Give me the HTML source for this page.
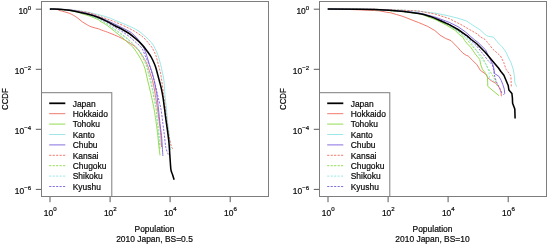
<!DOCTYPE html>
<html><head><meta charset="utf-8"><title>CCDF of population, 2010 Japan</title>
<style>
html,body{margin:0;padding:0;background:#fff;}
body{width:548px;height:246px;overflow:hidden;}
svg{display:block;}
.t{font-family:"Liberation Sans",Arial,Helvetica,sans-serif;font-size:8.45px;fill:#0a0a0a;stroke:#0a0a0a;stroke-width:0.2px;}
.s{font-size:6.1px;}
.c{font-size:7.8px;}
</style></head><body>
<svg width="548" height="246" viewBox="0 0 548 246">
<rect x="0" y="0" width="548" height="246" fill="#fff"/>
<g>
<path d="M57.5,9.5 C57.8,9.6 57.9,9.9 59.0,10.3 C60.1,10.7 62.4,11.2 64.1,11.7 C65.8,12.2 67.6,12.6 69.2,13.2 C70.8,13.8 72.1,14.6 73.6,15.4 C75.1,16.2 76.5,17.2 78.0,18.3 C79.5,19.4 80.9,20.8 82.4,21.9 C83.9,22.9 85.3,23.8 86.8,24.6 C88.3,25.4 89.2,26.1 91.2,26.8 C93.2,27.5 97.0,28.4 98.5,28.8 C100.0,29.2 98.5,28.9 100.0,29.5 C101.5,30.1 104.9,31.2 107.3,32.1 C109.7,33.0 112.2,34.0 114.6,35.0 C117.0,36.0 119.8,37.3 121.9,38.4 C124.0,39.5 125.4,40.4 127.3,41.5 C129.2,42.6 131.5,44.1 133.1,45.2 C134.7,46.3 135.7,47.2 136.8,48.2 C137.9,49.2 138.5,50.0 139.6,51.5 C140.7,53.0 142.2,55.3 143.5,57.5 C144.8,59.7 146.1,61.9 147.2,64.5 C148.3,67.1 149.1,70.3 150.0,73.0 C150.9,75.7 151.8,77.7 152.5,80.5 C153.2,83.3 154.0,87.2 154.5,90.0 C155.0,92.8 155.2,94.3 155.7,97.5 C156.2,100.7 156.9,104.8 157.5,109.2 C158.1,113.6 158.9,119.3 159.5,123.7 C160.1,128.1 160.5,131.5 160.8,135.4 C161.1,139.3 161.4,145.1 161.5,147.0" fill="none" stroke="#ef6a5d" stroke-width="0.9" stroke-linejoin="round"/>
<path d="M49.9,9.1 C51.4,9.1 55.8,9.1 59.0,9.3 C62.2,9.5 66.0,9.8 69.2,10.3 C72.4,10.8 75.8,11.7 78.0,12.3 C80.2,12.9 80.5,13.3 82.4,13.9 C84.4,14.5 87.0,15.1 89.7,16.1 C92.4,17.1 96.8,18.9 98.5,19.7 C100.2,20.5 98.5,20.1 100.0,21.1 C101.5,22.1 104.9,23.8 107.3,25.5 C109.7,27.2 112.2,29.4 114.6,31.4 C117.0,33.4 119.5,35.1 121.9,37.2 C124.3,39.3 127.2,42.0 129.2,43.8 C131.1,45.6 132.0,46.0 133.6,48.0 C135.2,50.0 137.3,53.2 139.0,56.0 C140.7,58.8 142.3,61.7 143.5,64.5 C144.7,67.3 145.3,70.2 146.0,73.0 C146.7,75.8 147.1,78.2 147.8,81.0 C148.5,83.8 149.3,87.2 150.0,90.0 C150.7,92.8 151.0,94.3 151.7,97.5 C152.4,100.7 153.5,106.2 154.1,109.2 C154.7,112.2 154.7,113.1 155.1,115.5 C155.5,117.9 155.9,120.4 156.3,123.7 C156.8,127.0 157.4,131.8 157.8,135.4 C158.2,139.1 158.4,142.3 158.8,145.6 C159.2,148.9 159.8,153.8 160.0,155.4" fill="none" stroke="#87d840" stroke-width="0.9" stroke-linejoin="round"/>
<path d="M49.9,9.0 C53.1,9.1 62.9,9.1 69.2,9.6 C75.5,10.1 81.9,11.0 88.0,12.2 C94.1,13.4 101.4,15.4 105.8,16.7 C110.2,18.0 110.7,18.5 114.6,20.1 C118.5,21.7 125.3,24.4 129.2,26.2 C133.1,27.9 135.3,28.9 138.0,30.6 C140.7,32.3 143.1,34.5 145.3,36.5 C147.5,38.5 149.6,40.4 151.2,42.3 C152.8,44.2 153.7,45.8 154.8,48.0 C155.9,50.2 157.0,52.5 158.0,55.3 C159.0,58.0 159.8,61.5 160.6,64.5 C161.3,67.5 161.9,70.2 162.5,73.0 C163.1,75.8 163.7,78.2 164.0,81.0 C164.3,83.8 164.4,87.2 164.6,90.0 C164.8,92.8 164.9,94.3 165.2,97.5 C165.5,100.7 166.1,104.8 166.5,109.0 C166.9,113.2 167.2,118.7 167.7,123.0 C168.2,127.3 168.8,130.5 169.3,135.0 C169.8,139.5 170.3,147.5 170.5,150.0" fill="none" stroke="#92e4e4" stroke-width="0.9" stroke-linejoin="round"/>
<path d="M49.9,9.1 C53.1,9.2 62.8,9.2 69.2,10.0 C75.6,10.8 83.1,12.4 88.2,13.6 C93.3,14.8 95.6,15.7 100.0,17.4 C104.4,19.1 109.7,21.7 114.6,24.0 C119.5,26.3 126.2,29.7 129.2,31.4 C132.2,33.1 131.5,32.9 132.8,34.0 C134.1,35.1 135.4,36.2 136.8,37.8 C138.2,39.4 139.8,41.8 141.0,43.5 C142.2,45.2 143.0,46.0 143.9,48.0 C144.8,50.0 145.7,52.5 146.6,55.3 C147.5,58.0 148.5,61.7 149.4,64.5 C150.3,67.3 151.2,69.3 152.0,72.0 C152.8,74.7 153.5,77.5 154.2,80.5 C154.9,83.5 155.5,87.2 156.0,90.0 C156.5,92.8 156.8,94.3 157.2,97.5 C157.6,100.7 158.0,104.6 158.5,109.0 C159.0,113.4 159.5,119.3 160.0,123.7 C160.5,128.1 161.1,131.5 161.5,135.4 C161.9,139.3 162.1,143.6 162.3,147.0 C162.5,150.4 162.8,154.5 162.9,156.0" fill="none" stroke="#7a5edb" stroke-width="0.9" stroke-linejoin="round"/>
<path d="M49.9,9.0 C53.1,9.1 62.9,9.2 69.2,9.8 C75.5,10.4 82.4,11.3 88.0,12.6 C93.6,13.9 98.5,16.0 102.9,17.5 C107.3,19.0 110.2,20.0 114.6,21.8 C119.0,23.6 125.3,26.4 129.2,28.4 C133.1,30.3 135.6,31.9 138.0,33.5 C140.4,35.1 142.1,36.2 143.9,37.9 C145.7,39.6 147.6,42.1 149.0,43.8 C150.4,45.5 151.2,46.1 152.3,48.0 C153.4,49.9 154.8,52.5 155.8,55.3 C156.8,58.0 157.5,61.5 158.3,64.5 C159.1,67.5 159.9,70.2 160.5,73.0 C161.1,75.8 161.4,78.2 161.8,81.0 C162.2,83.8 162.6,87.2 163.0,90.0 C163.4,92.8 163.6,94.3 164.0,97.5 C164.4,100.7 165.0,104.8 165.5,109.0 C166.0,113.2 166.4,118.5 167.0,123.0 C167.6,127.5 168.3,132.1 169.0,136.0 C169.7,139.9 170.7,144.2 171.4,146.4 C172.1,148.7 173.1,149.0 173.4,149.5" fill="none" stroke="#ef6a5d" stroke-width="0.9" stroke-linejoin="round" stroke-dasharray="2.16 1.3"/>
<path d="M49.9,9.1 C53.1,9.3 62.8,9.4 69.2,10.3 C75.6,11.2 83.1,12.9 88.2,14.5 C93.3,16.1 96.6,17.9 100.0,19.6 C103.4,21.3 106.4,23.2 108.8,24.8 C111.2,26.4 112.4,27.6 114.6,29.2 C116.8,30.8 119.5,32.5 121.9,34.3 C124.3,36.1 127.0,38.1 129.2,40.1 C131.4,42.1 133.8,44.7 135.1,46.0 C136.4,47.3 135.8,46.3 136.9,48.0 C138.0,49.7 140.4,53.2 141.9,56.0 C143.4,58.8 144.9,61.7 146.0,64.5 C147.1,67.3 147.6,70.2 148.3,73.0 C149.1,75.8 149.8,78.2 150.5,81.0 C151.2,83.8 151.9,87.2 152.5,90.0 C153.1,92.8 153.3,94.3 153.9,97.5 C154.5,100.7 155.4,104.8 156.0,109.2 C156.6,113.6 157.0,119.3 157.5,123.7 C158.0,128.1 158.4,131.0 158.8,135.4 C159.2,139.8 159.8,147.6 160.0,150.0" fill="none" stroke="#87d840" stroke-width="0.9" stroke-linejoin="round" stroke-dasharray="2.16 1.3"/>
<path d="M49.9,9.1 C53.1,9.3 62.8,9.4 69.2,10.3 C75.6,11.2 83.1,13.1 88.2,14.7 C93.3,16.3 96.6,18.1 100.0,19.9 C103.4,21.6 106.4,23.6 108.8,25.2 C111.2,26.8 112.4,28.1 114.6,29.7 C116.8,31.3 119.5,33.0 121.9,34.9 C124.3,36.8 127.0,38.9 129.2,40.8 C131.4,42.7 133.6,44.9 135.1,46.2 C136.6,47.5 136.7,47.0 138.0,48.6 C139.3,50.2 141.4,53.4 142.8,56.0 C144.2,58.6 145.6,61.7 146.6,64.5 C147.6,67.3 148.3,70.2 149.0,73.0 C149.7,75.8 150.3,78.2 151.0,81.0 C151.7,83.8 152.4,87.2 153.0,90.0 C153.6,92.8 153.9,94.3 154.5,97.5 C155.1,100.7 155.9,104.8 156.5,109.2 C157.1,113.6 157.5,119.3 158.0,123.7 C158.5,128.1 158.9,131.7 159.3,135.4 C159.7,139.1 160.1,144.2 160.3,146.0" fill="none" stroke="#92e4e4" stroke-width="0.9" stroke-linejoin="round" stroke-dasharray="2.16 1.3"/>
<path d="M49.9,9.1 C53.1,9.3 62.8,9.3 69.2,10.1 C75.6,10.9 83.1,12.6 88.2,14.0 C93.3,15.4 96.6,16.8 100.0,18.4 C103.4,19.9 106.4,21.9 108.8,23.3 C111.2,24.7 112.4,25.6 114.6,27.0 C116.8,28.4 119.5,29.8 121.9,31.4 C124.3,33.0 126.8,34.6 129.2,36.5 C131.6,38.4 134.4,41.1 136.5,43.0 C138.6,44.9 140.3,46.0 141.7,48.0 C143.1,50.0 143.8,52.5 145.0,55.3 C146.2,58.0 147.9,61.7 149.0,64.5 C150.1,67.3 150.6,69.2 151.5,72.0 C152.4,74.8 153.5,78.0 154.3,81.0 C155.1,84.0 155.8,87.2 156.5,90.0 C157.2,92.8 157.4,94.3 158.2,97.5 C158.9,100.7 160.2,104.8 161.0,109.2 C161.8,113.6 162.3,119.3 162.9,123.7 C163.5,128.1 163.9,131.4 164.4,135.4 C164.9,139.4 165.2,144.3 165.8,147.5 C166.5,150.7 167.9,153.4 168.3,154.6" fill="none" stroke="#7a5edb" stroke-width="0.9" stroke-linejoin="round" stroke-dasharray="2.16 1.3"/>
<path d="M49.9,9.1 C51.4,9.1 55.8,9.0 59.0,9.2 C62.2,9.4 66.0,9.7 69.2,10.2 C72.4,10.7 74.8,11.3 78.0,12.0 C81.2,12.7 84.8,13.3 88.2,14.2 C91.6,15.1 95.4,16.3 98.5,17.5 C101.6,18.7 104.3,20.1 107.0,21.4 C109.7,22.7 112.1,24.2 114.6,25.5 C117.1,26.8 119.6,28.0 122.0,29.3 C124.4,30.6 126.8,31.8 129.2,33.5 C131.6,35.2 134.5,37.7 136.5,39.4 C138.5,41.1 139.6,42.1 141.0,43.6 C142.4,45.1 143.8,46.6 145.0,48.2 C146.2,49.8 147.4,51.5 148.5,53.0 C149.6,54.5 150.6,56.0 151.4,57.5 C152.2,59.0 152.9,60.4 153.6,62.0 C154.3,63.6 154.8,64.5 155.6,67.0 C156.4,69.5 157.8,74.9 158.4,77.2 C159.0,79.5 158.9,79.1 159.4,81.0 C159.9,82.9 160.8,86.0 161.4,88.8 C162.0,91.6 162.6,94.6 163.1,98.0 C163.6,101.4 164.2,106.4 164.6,109.2 C165.0,112.0 165.0,112.6 165.3,115.0 C165.6,117.4 166.0,120.3 166.5,123.7 C167.0,127.1 167.7,132.3 168.1,135.4 C168.5,138.5 168.6,138.8 168.9,142.0 C169.2,145.2 169.6,151.3 169.8,154.6 C170.0,157.9 170.1,159.4 170.3,162.0 C170.5,164.6 170.6,168.1 171.0,170.2 C171.4,172.3 172.0,173.0 172.5,174.6 C173.0,176.2 173.8,178.8 174.1,179.7" fill="none" stroke="#000" stroke-width="1.55" stroke-linejoin="round"/>
<rect x="41.5" y="1.5" width="227.0" height="195.0" fill="none" stroke="#7d7d7d" stroke-width="1"/>
<line x1="50.0" y1="196.5" x2="50.0" y2="202.2" stroke="#5a5a5a" stroke-width="1"/>
<text x="50.2" y="215.5" class="t" text-anchor="middle">10<tspan dy="-4.6" class="s">0</tspan></text>
<line x1="110.1" y1="196.5" x2="110.1" y2="202.2" stroke="#5a5a5a" stroke-width="1"/>
<text x="110.3" y="215.5" class="t" text-anchor="middle">10<tspan dy="-4.6" class="s">2</tspan></text>
<line x1="170.1" y1="196.5" x2="170.1" y2="202.2" stroke="#5a5a5a" stroke-width="1"/>
<text x="170.3" y="215.5" class="t" text-anchor="middle">10<tspan dy="-4.6" class="s">4</tspan></text>
<line x1="230.2" y1="196.5" x2="230.2" y2="202.2" stroke="#5a5a5a" stroke-width="1"/>
<text x="230.4" y="215.5" class="t" text-anchor="middle">10<tspan dy="-4.6" class="s">6</tspan></text>
<line x1="35.8" y1="9.2" x2="41.5" y2="9.2" stroke="#5a5a5a" stroke-width="1"/>
<text x="31.2" y="14.0" class="t" text-anchor="end">10<tspan dy="-4.3" class="s">0</tspan></text>
<line x1="35.8" y1="69.3" x2="41.5" y2="69.3" stroke="#5a5a5a" stroke-width="1"/>
<text x="31.2" y="74.1" class="t" text-anchor="end">10<tspan dy="-4.3" class="s">−2</tspan></text>
<line x1="35.8" y1="129.3" x2="41.5" y2="129.3" stroke="#5a5a5a" stroke-width="1"/>
<text x="31.2" y="134.1" class="t" text-anchor="end">10<tspan dy="-4.3" class="s">−4</tspan></text>
<line x1="35.8" y1="189.4" x2="41.5" y2="189.4" stroke="#5a5a5a" stroke-width="1"/>
<text x="31.2" y="194.2" class="t" text-anchor="end">10<tspan dy="-4.3" class="s">−6</tspan></text>
<text x="154.5" y="231.9" class="t" text-anchor="middle">Population</text>
<text x="154.5" y="242.0" class="t" text-anchor="middle">2010 Japan, BS=0.5</text>
<text transform="translate(8.1,99.1) scale(1.05,1) rotate(-90)" class="t c" text-anchor="middle">CCDF</text>
<rect x="41.5" y="92.7" width="70.3" height="103.8" fill="#fff" stroke="#7d7d7d" stroke-width="1"/>
<line x1="49.2" y1="103.3" x2="65.3" y2="103.3" stroke="#000" stroke-width="1.75"/>
<text x="72.7" y="106.5" class="t">Japan</text>
<line x1="49.2" y1="113.7" x2="65.3" y2="113.7" stroke="#ef6a5d" stroke-width="0.9"/>
<text x="72.7" y="116.9" class="t">Hokkaido</text>
<line x1="49.2" y1="124.1" x2="65.3" y2="124.1" stroke="#87d840" stroke-width="0.9"/>
<text x="72.7" y="127.3" class="t">Tohoku</text>
<line x1="49.2" y1="134.5" x2="65.3" y2="134.5" stroke="#92e4e4" stroke-width="0.9"/>
<text x="72.7" y="137.7" class="t">Kanto</text>
<line x1="49.2" y1="144.9" x2="65.3" y2="144.9" stroke="#7a5edb" stroke-width="0.9"/>
<text x="72.7" y="148.1" class="t">Chubu</text>
<line x1="49.2" y1="155.3" x2="65.3" y2="155.3" stroke="#ef6a5d" stroke-width="0.9" stroke-dasharray="2.16 1.3"/>
<text x="72.7" y="158.5" class="t">Kansai</text>
<line x1="49.2" y1="165.7" x2="65.3" y2="165.7" stroke="#87d840" stroke-width="0.9" stroke-dasharray="2.16 1.3"/>
<text x="72.7" y="168.9" class="t">Chugoku</text>
<line x1="49.2" y1="176.1" x2="65.3" y2="176.1" stroke="#92e4e4" stroke-width="0.9" stroke-dasharray="2.16 1.3"/>
<text x="72.7" y="179.3" class="t">Shikoku</text>
<line x1="49.2" y1="186.5" x2="65.3" y2="186.5" stroke="#7a5edb" stroke-width="0.9" stroke-dasharray="2.16 1.3"/>
<text x="72.7" y="189.7" class="t">Kyushu</text>
</g>
<g>
<polyline points="345.0,9.3 360.0,9.9 374.6,10.5 380.0,10.9 386.3,12.2 391.0,12.9 396.5,14.5 401.9,16.1 406.8,17.9 412.9,20.4 418.5,22.5 423.9,24.8 427.3,26.2 434.8,30.5 440.0,35.1 445.5,38.4 451.0,40.6 454.3,43.9 457.5,47.2 460.3,50.4 463.0,53.2 466.3,55.4 468.2,56.0 472.6,60.4 477.0,64.8 480.3,70.3 485.7,74.1 487.9,77.9 491.2,80.7 495.1,82.9 496.8,84.2 499.6,88.1 501.0,92.4 501.4,96.3" fill="none" stroke="#ef6a5d" stroke-width="0.9" stroke-linejoin="round"/>
<polyline points="327.8,9.1 374.6,9.6 403.9,11.6 420.0,13.8 436.0,19.9 447.0,25.4 455.7,30.8 458.6,34.0 463.0,37.3 464.7,40.6 467.4,43.9 470.7,47.2 472.9,50.4 475.1,53.7 477.0,56.2 479.7,59.3 480.8,64.8 482.4,69.2 485.7,73.5 487.4,76.3 487.6,80.0 487.8,86.4 499.0,95.7" fill="none" stroke="#87d840" stroke-width="0.9" stroke-linejoin="round"/>
<polyline points="327.8,9.0 374.6,9.2 403.9,10.2 420.0,11.3 436.0,13.3 447.0,15.5 457.9,18.2 466.7,21.0 472.2,24.8 479.9,29.7 484.2,33.6 486.5,35.6 488.2,36.2 493.7,37.3 497.0,41.7 501.6,46.2 506.0,52.1 507.7,56.0 511.0,62.6 513.2,69.2 514.2,74.6 514.9,82.6 516.6,86.7" fill="none" stroke="#92e4e4" stroke-width="0.9" stroke-linejoin="round"/>
<polyline points="327.8,9.1 374.6,9.4 403.9,11.2 420.0,13.2 434.6,16.9 449.2,22.3 458.0,26.7 465.3,31.8 470.2,36.0 474.1,39.5 478.2,42.6 485.6,49.9 489.6,58.3 492.9,64.8 494.0,69.2 494.5,73.5 498.9,76.3 501.2,80.4 502.9,84.8 504.3,89.2 504.7,93.5 503.4,94.9" fill="none" stroke="#7a5edb" stroke-width="0.9" stroke-linejoin="round"/>
<polyline points="327.8,9.0 374.6,9.2 403.9,10.3 418.5,11.0 430.2,13.2 434.6,13.9 449.2,18.6 460.9,24.5 469.7,29.6 478.5,34.7 479.0,36.0 485.1,39.5 487.0,41.8 492.9,49.2 500.5,56.0 503.8,62.6 506.0,69.2 509.9,74.6 510.9,76.0 511.3,86.4" fill="none" stroke="#ef6a5d" stroke-width="0.9" stroke-linejoin="round" stroke-dasharray="2.16 1.3"/>
<polyline points="327.8,9.1 374.6,9.5 403.9,11.6 420.0,13.8 434.6,18.4 449.2,25.9 458.0,31.0 463.9,36.2 466.8,39.5 472.4,46.2 481.4,56.0 484.6,61.5 487.9,68.1 490.7,72.4 493.4,76.8 495.2,80.4 497.4,85.9" fill="none" stroke="#87d840" stroke-width="0.9" stroke-linejoin="round" stroke-dasharray="2.16 1.3"/>
<polyline points="327.8,9.1 374.6,9.5 403.9,11.5 420.0,13.6 434.6,18.1 449.2,25.2 460.0,33.0 469.5,40.4 476.8,50.6 479.5,56.0 483.0,60.5 486.3,64.8 488.0,69.0 489.0,72.4 489.7,79.3 492.0,79.8 495.8,82.5" fill="none" stroke="#92e4e4" stroke-width="0.9" stroke-linejoin="round" stroke-dasharray="2.16 1.3"/>
<polyline points="327.8,9.1 374.6,9.5 403.9,11.4 420.0,13.5 434.6,17.6 449.2,24.0 458.0,29.5 468.0,37.5 476.8,46.2 484.6,56.0 487.9,60.4 492.3,64.8 493.5,69.0 494.2,73.5 494.6,76.0 496.3,81.5 498.5,85.9 500.7,90.3 502.3,94.1" fill="none" stroke="#7a5edb" stroke-width="0.9" stroke-linejoin="round" stroke-dasharray="2.16 1.3"/>
<polyline points="327.8,9.1 360.0,9.2 374.6,9.5 389.2,10.2 403.9,11.4 418.5,13.6 423.9,14.5 430.2,16.4 434.6,18.1 440.0,20.5 449.2,24.6 458.0,29.5 465.3,34.6 467.5,36.2 471.2,39.5 476.5,43.5 485.2,52.2 493.8,62.4 498.5,68.0 500.9,71.5 503.9,75.3 508.2,85.5 508.9,90.0 511.9,93.5 512.4,98.0 512.6,103.3 514.8,109.0 515.1,118.5" fill="none" stroke="#000" stroke-width="1.55" stroke-linejoin="round"/>
<rect x="319.5" y="1.5" width="227.0" height="195.0" fill="none" stroke="#7d7d7d" stroke-width="1"/>
<line x1="328.0" y1="196.5" x2="328.0" y2="202.2" stroke="#5a5a5a" stroke-width="1"/>
<text x="328.2" y="215.5" class="t" text-anchor="middle">10<tspan dy="-4.6" class="s">0</tspan></text>
<line x1="388.1" y1="196.5" x2="388.1" y2="202.2" stroke="#5a5a5a" stroke-width="1"/>
<text x="388.3" y="215.5" class="t" text-anchor="middle">10<tspan dy="-4.6" class="s">2</tspan></text>
<line x1="448.1" y1="196.5" x2="448.1" y2="202.2" stroke="#5a5a5a" stroke-width="1"/>
<text x="448.3" y="215.5" class="t" text-anchor="middle">10<tspan dy="-4.6" class="s">4</tspan></text>
<line x1="508.2" y1="196.5" x2="508.2" y2="202.2" stroke="#5a5a5a" stroke-width="1"/>
<text x="508.4" y="215.5" class="t" text-anchor="middle">10<tspan dy="-4.6" class="s">6</tspan></text>
<line x1="313.8" y1="9.2" x2="319.5" y2="9.2" stroke="#5a5a5a" stroke-width="1"/>
<text x="309.2" y="14.0" class="t" text-anchor="end">10<tspan dy="-4.3" class="s">0</tspan></text>
<line x1="313.8" y1="69.3" x2="319.5" y2="69.3" stroke="#5a5a5a" stroke-width="1"/>
<text x="309.2" y="74.1" class="t" text-anchor="end">10<tspan dy="-4.3" class="s">−2</tspan></text>
<line x1="313.8" y1="129.3" x2="319.5" y2="129.3" stroke="#5a5a5a" stroke-width="1"/>
<text x="309.2" y="134.1" class="t" text-anchor="end">10<tspan dy="-4.3" class="s">−4</tspan></text>
<line x1="313.8" y1="189.4" x2="319.5" y2="189.4" stroke="#5a5a5a" stroke-width="1"/>
<text x="309.2" y="194.2" class="t" text-anchor="end">10<tspan dy="-4.3" class="s">−6</tspan></text>
<text x="432.5" y="231.9" class="t" text-anchor="middle">Population</text>
<text x="432.5" y="242.0" class="t" text-anchor="middle">2010 Japan, BS=10</text>
<text transform="translate(286.1,99.1) scale(1.05,1) rotate(-90)" class="t c" text-anchor="middle">CCDF</text>
<rect x="319.5" y="92.7" width="70.3" height="103.8" fill="#fff" stroke="#7d7d7d" stroke-width="1"/>
<line x1="327.2" y1="103.3" x2="343.3" y2="103.3" stroke="#000" stroke-width="1.75"/>
<text x="350.7" y="106.5" class="t">Japan</text>
<line x1="327.2" y1="113.7" x2="343.3" y2="113.7" stroke="#ef6a5d" stroke-width="0.9"/>
<text x="350.7" y="116.9" class="t">Hokkaido</text>
<line x1="327.2" y1="124.1" x2="343.3" y2="124.1" stroke="#87d840" stroke-width="0.9"/>
<text x="350.7" y="127.3" class="t">Tohoku</text>
<line x1="327.2" y1="134.5" x2="343.3" y2="134.5" stroke="#92e4e4" stroke-width="0.9"/>
<text x="350.7" y="137.7" class="t">Kanto</text>
<line x1="327.2" y1="144.9" x2="343.3" y2="144.9" stroke="#7a5edb" stroke-width="0.9"/>
<text x="350.7" y="148.1" class="t">Chubu</text>
<line x1="327.2" y1="155.3" x2="343.3" y2="155.3" stroke="#ef6a5d" stroke-width="0.9" stroke-dasharray="2.16 1.3"/>
<text x="350.7" y="158.5" class="t">Kansai</text>
<line x1="327.2" y1="165.7" x2="343.3" y2="165.7" stroke="#87d840" stroke-width="0.9" stroke-dasharray="2.16 1.3"/>
<text x="350.7" y="168.9" class="t">Chugoku</text>
<line x1="327.2" y1="176.1" x2="343.3" y2="176.1" stroke="#92e4e4" stroke-width="0.9" stroke-dasharray="2.16 1.3"/>
<text x="350.7" y="179.3" class="t">Shikoku</text>
<line x1="327.2" y1="186.5" x2="343.3" y2="186.5" stroke="#7a5edb" stroke-width="0.9" stroke-dasharray="2.16 1.3"/>
<text x="350.7" y="189.7" class="t">Kyushu</text>
</g>
</svg>
</body></html>
